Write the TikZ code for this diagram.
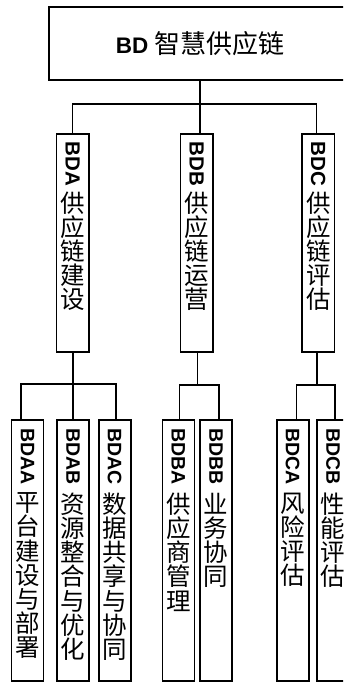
\documentclass[tikz,border=0pt]{standalone}
\usepackage{fontspec}
\setmainfont{Noto Sans CJK SC}
\newfontfamily\lat{Liberation Sans}
\newcommand\latb{\lat\bfseries}
\newcommand\vt[4]{\rotatebox{-90}{\fontsize{#1}{#1}\selectfont\latb #2}\\[#3]#4}
\tikzset{
  box/.style={draw, line width=1.6pt, inner sep=0pt},
  conn/.style={line width=1.5pt},
  lvtwo/.style={box, minimum width=32.3pt, minimum height=218pt},
  lvthree/.style={box, minimum width=32pt, minimum height=261pt},
  vtwo/.style={anchor=north, inner sep=0pt, align=center, font=\fontsize{24.5}{24}\selectfont},
  vthree/.style={anchor=north, inner sep=0pt, align=center, font=\fontsize{24.5}{24.2}\selectfont},
}
\begin{document}
\begin{tikzpicture}[x=1pt,y=1pt]
\useasboundingbox (0,0) rectangle (343,-682);
\clip (0,0) rectangle (343,-682);
% top
\node[box, minimum width=302pt, minimum height=73pt, font=\fontsize{26}{26}\selectfont] (top) at (200,-43.5) {{\fontsize{22.5}{22.5}\selectfont\latb BD} 智慧供应链};
% level 2
\node[lvtwo] (bda) at (72.8,-243) {};
\node[lvtwo] (bdb) at (196.7,-243) {};
\node[lvtwo] (bdc) at (318.3,-243) {};
\node[vtwo] (bdat) at ([yshift=-8pt]bda.north) {\vt{20.5}{BDA}{5pt}{供\\应\\链\\建\\设}};
\node[vtwo] (bdbt) at ([yshift=-8pt]bdb.north) {\vt{20.5}{BDB}{5pt}{供\\应\\链\\运\\营}};
\node[vtwo] (bdct) at ([yshift=-8pt]bdc.north) {\vt{20.5}{BDC}{5pt}{供\\应\\链\\评\\估}};
% level 3
\node[lvthree] (bdaa) at (27.5,-550.5) {};
\node[lvthree] (bdab) at (73,-550.5) {};
\node[lvthree] (bdac) at (114.7,-550.5) {};
\node[lvthree] (bdba) at (178.3,-550.5) {};
\node[lvthree] (bdbb) at (216.2,-550.5) {};
\node[lvthree] (bdca) at (292.7,-550.5) {};
\node[lvthree] (bdcb) at (333.2,-550.5) {};
\node[vthree] (bdaat) at ([yshift=-9pt]bdaa.north) {\vt{19.5}{BDAA}{7pt}{平\\台\\建\\设\\与\\部\\署}};
\node[vthree] (bdabt) at ([yshift=-9pt]bdab.north) {\vt{19.5}{BDAB}{7pt}{资\\源\\整\\合\\与\\优\\化}};
\node[vthree] (bdact) at ([yshift=-9pt]bdac.north) {\vt{19.5}{BDAC}{7pt}{数\\据\\共\\享\\与\\协\\同}};
\node[vthree] (bdbat) at ([yshift=-9pt]bdba.north) {\vt{19.5}{BDBA}{7pt}{供\\应\\商\\管\\理}};
\node[vthree] (bdbbt) at ([yshift=-9pt]bdbb.north) {\vt{19.5}{BDBB}{7pt}{业\\务\\协\\同}};
\node[vthree] (bdcat) at ([yshift=-9pt]bdca.north) {\vt{19.5}{BDCA}{7pt}{风\\险\\评\\估}};
\node[vthree] (bdcbt) at ([yshift=-9pt]bdcb.north) {\vt{19.5}{BDCB}{7pt}{性\\能\\评\\估}};
% connectors top -> level 2
\draw[conn] (top.south) -- ++(0,-23.3) coordinate (j0);
\draw[conn] ([xshift=-0.5pt]bda.north) |- (j0) -| ([xshift=-2pt]bdc.north);
\draw[conn] (j0) -- (j0 |- bdb.north);
% BDA -> children
\draw[conn] (bda.south) -- ++(0,-31) coordinate (ja);
\draw[conn] ([xshift=-6.5pt]bdaa.north) |- (ja) -| ([xshift=1.3pt]bdac.north);
\draw[conn] (ja) -- (ja |- bdab.north);
% BDB -> children
\draw[conn] ([xshift=0.8pt]bdb.south) -- ++(0,-32) coordinate (jb);
\draw[conn] ([xshift=1pt]bdba.north) |- (jb) -| ([xshift=2.8pt]bdbb.north);
% BDC -> children
\draw[conn] ([xshift=-1.3pt]bdc.south) -- ++(0,-32) coordinate (jc);
\draw[conn] ([xshift=4pt]bdca.north) |- (jc) -| ([xshift=1.8pt]bdcb.north);
\end{tikzpicture}
\end{document}
